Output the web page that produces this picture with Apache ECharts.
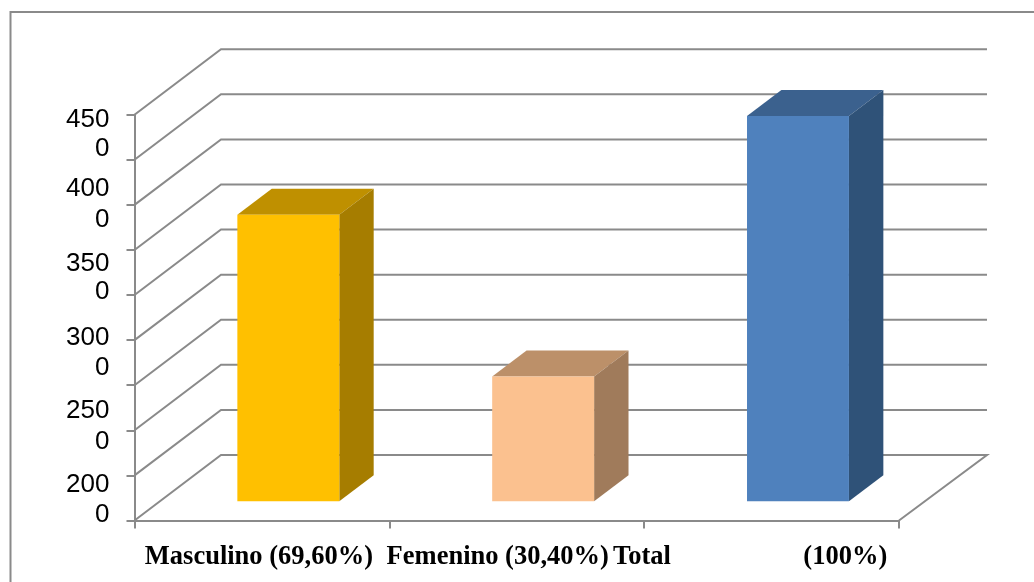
<!DOCTYPE html>
<html>
<head>
<meta charset="utf-8">
<style>html,body{margin:0;padding:0;background:#fff}#c{width:1034px;height:582px}</style>
<script src="https://cdn.jsdelivr.net/npm/echarts@6/dist/echarts.min.js"></script>
</head>
<body>
<div id="c"></div>
<script>
const categories = ['Masculino (69,60%)', 'Femenino (30,40%)', 'Total (100%)'];
const values = [3178, 1383, 4273];
const tickValues = [0, 500, 1000, 1500, 2000, 2500, 3000, 3500, 4000, 4500];
const tickLabels = ['450', '0', '400', '0', '350', '0', '300', '0', '250', '0', '200', '0'];
const tickLabelValues = [4440, 4125, 3678, 3335, 2848, 2538, 2031, 1688, 1213, 873, 392, 62];
const frontColors = ['#FFC000', '#FBC18F', '#4F81BD'];
const sideColors = ['#A67D00', '#A07B5B', '#2F5278'];
const topColors = ['#BF9000', '#BC9069', '#3B618E'];

const GRID = '#8A8A8A';
const WALL_DX = 86.5, WALL_DY = -65.5, WALL_RIGHT_DX = 88;
const BAR_DX = 26.4, BAR_DY = -19.2;
const DEPTH_DX = 34.4, DEPTH_DY = -26;

const chart = echarts.init(document.getElementById('c'), null, {renderer: 'canvas'});
chart.setOption({
  animation: false,
  backgroundColor: '#fff',
  graphic: [{
    type: 'rect', silent: true, z: -1,
    shape: {x: 10.5, y: 12, width: 1060, height: 620},
    style: {fill: 'none', stroke: GRID, lineWidth: 2}
  }],
  grid: {left: 134.5, top: 114.7, width: 764.5, height: 405.8, containLabel: false},
  xAxis: {
    type: 'category',
    data: categories.map((c, i) => ({
      value: c,
      textStyle: {padding: [0, [6, 38, 43][i], 0, 0]}
    })),
    boundaryGap: true,
    axisLine: {show: true, lineStyle: {color: GRID, width: 2}},
    axisTick: {show: true, length: 8, alignWithLabel: false, lineStyle: {color: GRID, width: 2}},
    axisLabel: {
      interval: 0, margin: 23,
      fontFamily: 'Liberation Serif', fontWeight: 'bold', fontSize: 26.5, color: '#000',
      formatter: v => v.startsWith('Total') ? v.replace(' ', ' '.repeat(20)) : v
    }
  },
  yAxis: {
    type: 'value', min: 0, max: 4500, interval: 500,
    splitLine: {show: false},
    axisLine: {show: true, lineStyle: {color: GRID, width: 2}},
    axisTick: {show: true, length: 8, customValues: tickValues, lineStyle: {color: GRID, width: 2}},
    axisLabel: {
      customValues: tickLabelValues,
      margin: 25, fontFamily: 'Liberation Sans', fontSize: 26, color: '#000',
      formatter: (v, i) => tickLabels[tickLabelValues.indexOf(v)]
    }
  },
  series: [
    {
      type: 'custom', name: 'walls', silent: true, z: 1, clip: false,
      data: tickValues.map(v => [0, v]),
      encode: {x: 0, y: 1},
      renderItem(params, api) {
        const r = params.coordSys;
        const y = api.coord([0, api.value(1)])[1];
        const x0 = r.x, x1 = r.x + r.width;
        const pts = [[x0, y], [x0 + WALL_DX, y + WALL_DY], [x1 + WALL_RIGHT_DX, y + WALL_DY]];
        if (api.value(1) === 0) pts.push([x1, y]);
        return {type: 'polyline', shape: {points: pts}, style: {stroke: GRID, lineWidth: 2, fill: null}};
      }
    },
    {
      type: 'custom', name: 'bars', silent: true, z: 2, clip: false,
      data: values.map((v, i) => [i, v]),
      encode: {x: 0, y: 1},
      renderItem(params, api) {
        const i = api.value(0);
        const top = api.coord([i, api.value(1)]);
        const base = api.coord([i, 0]);
        const w = api.size([1, 0])[0] * 0.4;
        const l = top[0] + BAR_DX - w / 2, r = l + w;
        const t = top[1] + BAR_DY, b = base[1] + BAR_DY;
        return {type: 'group', children: [
          {type: 'polygon', shape: {points: [[l, t], [r, t], [r + DEPTH_DX, t + DEPTH_DY], [l + DEPTH_DX, t + DEPTH_DY]]}, style: {fill: topColors[i]}},
          {type: 'polygon', shape: {points: [[r, t], [r + DEPTH_DX, t + DEPTH_DY], [r + DEPTH_DX, b + DEPTH_DY], [r, b]]}, style: {fill: sideColors[i]}},
          {type: 'rect', shape: {x: l, y: t, width: w, height: b - t}, style: {fill: frontColors[i]}}
        ]};
      }
    }
  ]
});
</script>
</body>
</html>
